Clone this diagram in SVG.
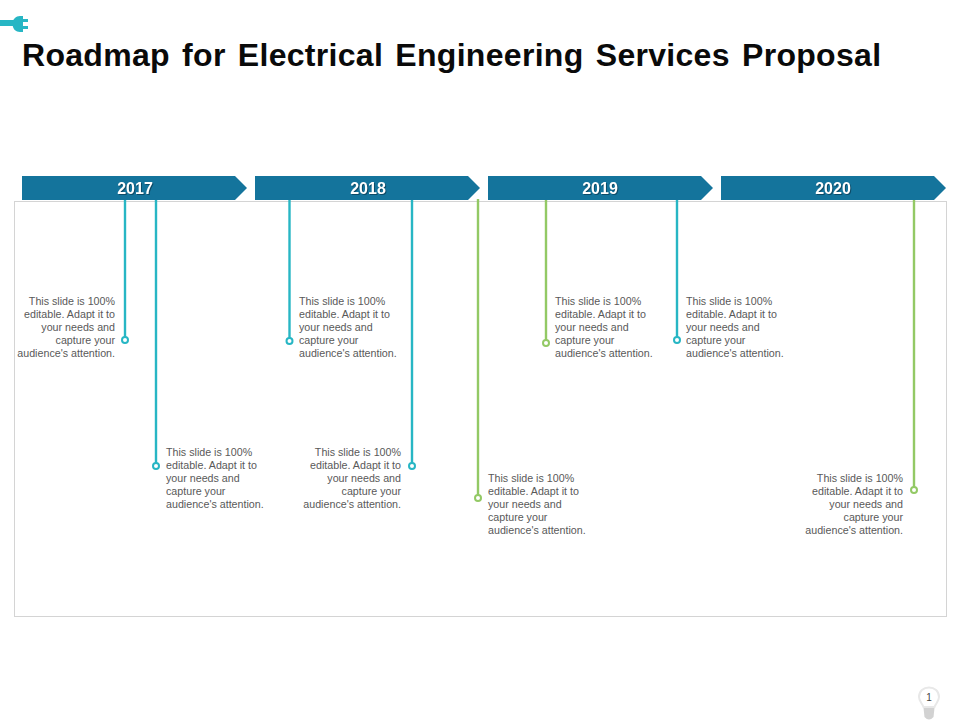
<svg xmlns="http://www.w3.org/2000/svg" width="960" height="720" viewBox="0 0 960 720">
<style>
text{font-family:"Liberation Sans",Arial,sans-serif}
.title{font-size:32px;font-weight:700;fill:#0a0a0a;letter-spacing:.3px;word-spacing:3px}
.yr{font-size:16px;font-weight:700;fill:#fff;text-anchor:middle;filter:drop-shadow(1px 1px 0 #0d4a66)}
.b{font-size:10.7px;fill:#595959}
.r{text-anchor:end}
.ar{fill:#14749c}
.t{stroke:#27b6c4;stroke-width:2.4;fill:none}
.g{stroke:#93c965;stroke-width:2.4;fill:none}
.dt{fill:#fff;stroke:#27b6c4;stroke-width:2}
.dg{fill:#fff;stroke:#93c965;stroke-width:2}
</style>
<defs>
<g id="tl"><text class="b"><tspan x="0" y="0">This slide is 100%</tspan><tspan x="0" y="13">editable.  Adapt it to</tspan><tspan x="0" y="26">your needs and</tspan><tspan x="0" y="39">capture your</tspan><tspan x="0" y="52">audience's attention.</tspan></text></g>
<g id="tr"><text class="b r"><tspan x="0" y="0">This slide is 100%</tspan><tspan x="0" y="13">editable.  Adapt it to</tspan><tspan x="0" y="26">your needs and</tspan><tspan x="0" y="39">capture your</tspan><tspan x="0" y="52">audience's attention.</tspan></text></g>
</defs>
<g id="plug-icon"><path d="M0 20H14V26H0Z" fill="#27b6c4"/><path d="M12.500 24C12.500 19 16 16 20 16H23V19H28V22H23V26H28V29H23V32H20C16 32 12.500 29 12.500 24Z" fill="#27b6c4"/></g>
<text id="title" class="title" x="22" y="66">Roadmap for Electrical Engineering Services Proposal</text>
<rect id="frame" x="14.500" y="201.500" width="932" height="415" fill="#fff" stroke="#d4d4d4" stroke-width="1"/>
<g id="year-2017"><path class="ar" d="M22 176H235L247 188L235 200H22Z"/><text class="yr" x="135" y="193.500">2017</text></g>
<g id="year-2018"><path class="ar" d="M255 176H468L480 188L468 200H255Z"/><text class="yr" x="368" y="193.500">2018</text></g>
<g id="year-2019"><path class="ar" d="M488 176H701L713 188L701 200H488Z"/><text class="yr" x="600" y="193.500">2019</text></g>
<g id="year-2020"><path class="ar" d="M721 176H934L946 188L934 200H721Z"/><text class="yr" x="833" y="193.500">2020</text></g>
<g id="connectors">
<path class="t" d="M125 200V337"/>
<path class="t" d="M156 200V463"/>
<path class="t" d="M289.500 200V338"/>
<path class="t" d="M412 200V463"/>
<path class="g" d="M478 199V495"/>
<path class="g" d="M546 200V340"/>
<path class="t" d="M677 200V337"/>
<path class="g" d="M914 200V487"/>
</g>
<g id="item-1"><circle class="dt" cx="125" cy="340" r="3"/><use href="#tr" x="115" y="305"/></g>
<g id="item-2"><circle class="dt" cx="156" cy="466" r="3"/><use href="#tl" x="166" y="456"/></g>
<g id="item-3"><circle class="dt" cx="289.500" cy="341" r="3"/><use href="#tl" x="299" y="305"/></g>
<g id="item-4"><circle class="dt" cx="412" cy="466" r="3"/><use href="#tr" x="401" y="456"/></g>
<g id="item-5"><circle class="dg" cx="478" cy="498" r="3"/><use href="#tl" x="488" y="482"/></g>
<g id="item-6"><circle class="dg" cx="546" cy="343" r="3"/><use href="#tl" x="555" y="305"/></g>
<g id="item-7"><circle class="dt" cx="677" cy="340" r="3"/><use href="#tl" x="686" y="305"/></g>
<g id="item-8"><circle class="dg" cx="914" cy="490" r="3"/><use href="#tr" x="903" y="482"/></g>
<g id="page-number">
<path d="M923.500 707C922 703 919 701 919 697C919 691 923.500 687.500 929 687.500C934.500 687.500 939 691 939 697C939 701 936 703 934.500 707Z" fill="#fff" stroke="#e8e8e8" stroke-width="2"/>
<path d="M923.500 708H934.500L933.500 717Q929 722 924.500 717Z" fill="#d2d2d2"/>
<text x="929" y="701" font-size="10" fill="#444" text-anchor="middle">1</text>
</g>
</svg>
